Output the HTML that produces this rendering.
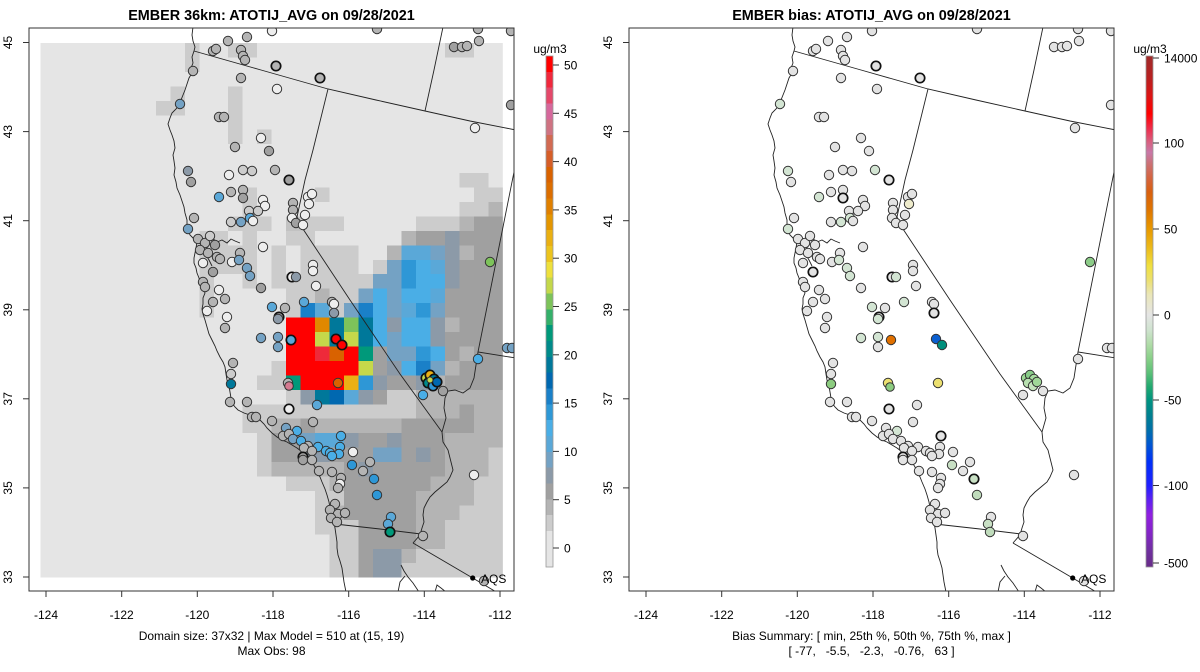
<!DOCTYPE html>
<html>
<head>
<meta charset="utf-8">
<style>
  html,body{margin:0;padding:0;background:#fff;}
  svg{display:block;font-family:"Liberation Sans",Arial,sans-serif;}
  .a{fill:#cccccc}.k{fill:#b4b4b4}.c{fill:#a0a0a0}.g{fill:#8c9aa8}.s{fill:#74a2c4}
  .l{fill:#5aa8d8}.e{fill:#4aaee6}.m{fill:#2e97d6}.n{fill:#1a80c8}.d{fill:#0068b0}
  .t{fill:#00789a}.u{fill:#008a8a}.q{fill:#00997a}.y{fill:#c5d84a}.o{fill:#e08800}
  .p{fill:#d96200}.r{fill:#ff0000}.w{fill:#ee2a3a}.z{fill:#ebb015}.v{fill:#7dc35a}
  .W{fill:#eeeeee}.pk{fill:#d47a90}.h{fill:#e3e3e3}.j{fill:#d3e5d3}.a2{fill:#c2c2c2}
  .pts circle{stroke:#333;stroke-width:1}
  .pts circle.T{stroke:#111;stroke-width:1.7}
  .ln{fill:none;stroke:#222;stroke-width:0.9}
  .tk{stroke:#333;stroke-width:1}
  .lab{font-size:12px;fill:#000}
</style>
</head>
<body>
<svg width="1200" height="672" viewBox="0 0 1200 672" xmlns="http://www.w3.org/2000/svg">
<defs>
  <clipPath id="cp"><rect x="29" y="28" width="485" height="563"/></clipPath>
  <linearGradient id="bias" x1="0" y1="0" x2="0" y2="1">
    <stop offset="0%" stop-color="#a02a2a"/>
    <stop offset="4.3%" stop-color="#b82020"/>
    <stop offset="7.8%" stop-color="#dc1414"/>
    <stop offset="11.3%" stop-color="#ff0000"/>
    <stop offset="14.4%" stop-color="#ec3050"/>
    <stop offset="16.8%" stop-color="#d86080"/>
    <stop offset="18.9%" stop-color="#c878a8"/>
    <stop offset="21.3%" stop-color="#cc7070"/>
    <stop offset="23.8%" stop-color="#d46440"/>
    <stop offset="26.6%" stop-color="#d86010"/>
    <stop offset="30%" stop-color="#de7400"/>
    <stop offset="34%" stop-color="#e89a00"/>
    <stop offset="37.7%" stop-color="#ecbc1c"/>
    <stop offset="41.1%" stop-color="#f0e040"/>
    <stop offset="43.9%" stop-color="#ece070"/>
    <stop offset="46.7%" stop-color="#eae6b8"/>
    <stop offset="50.7%" stop-color="#e5e5e5"/>
    <stop offset="53.6%" stop-color="#cfe3cf"/>
    <stop offset="56.4%" stop-color="#b0dca8"/>
    <stop offset="59.2%" stop-color="#88d088"/>
    <stop offset="62%" stop-color="#5cc078"/>
    <stop offset="64.8%" stop-color="#20a870"/>
    <stop offset="67.3%" stop-color="#009480"/>
    <stop offset="70.3%" stop-color="#008090"/>
    <stop offset="73.1%" stop-color="#0070a8"/>
    <stop offset="75.9%" stop-color="#0058d0"/>
    <stop offset="79.4%" stop-color="#0030f8"/>
    <stop offset="84.1%" stop-color="#2020ff"/>
    <stop offset="87%" stop-color="#6020f0"/>
    <stop offset="89.8%" stop-color="#9020e0"/>
    <stop offset="93.3%" stop-color="#8424c8"/>
    <stop offset="96.7%" stop-color="#7030a0"/>
    <stop offset="100%" stop-color="#682c88"/>
  </linearGradient>
</defs>

<!-- ================= LEFT PANEL ================= -->
<text x="271.5" y="20" text-anchor="middle" font-size="14.4" font-weight="bold">EMBER 36km: ATOTIJ_AVG on 09/28/2021</text>

<g clip-path="url(#cp)">
  <svg x="40.4" y="43" width="462.4" height="534.65" viewBox="0 0 32 37" preserveAspectRatio="none" shape-rendering="crispEdges">
    <rect x="0" y="0" width="32" height="37" fill="#e5e5e5"/>
    <rect class="a" x="10" y="0" width="1" height="2"/>
    <rect class="a" x="13" y="0" width="2" height="1"/>
    <rect class="a" x="28" y="0" width="2" height="1"/>
    <rect class="a" x="9" y="3" width="1" height="2"/>
    <rect class="a" x="8" y="4" width="1" height="1"/>
    <rect class="a" x="13" y="3" width="1" height="4"/>
    <rect class="a" x="15" y="6" width="1" height="1"/>
    <rect class="a" x="29" y="9" width="2" height="1"/>
    <rect class="a" x="14" y="10" width="1" height="3"/>
    <rect class="a" x="19" y="10" width="1" height="1"/>
    <rect class="a" x="30" y="10" width="2" height="1"/>
    <rect class="a" x="29" y="11" width="2" height="1"/>
    <rect class="k" x="31" y="11" width="1" height="1"/>
    <rect class="a" x="13" y="12" width="3" height="1"/>
    <rect class="a2" x="17" y="12" width="1" height="1"/>
    <rect class="a" x="18" y="12" width="3" height="1"/>
    <rect class="a" x="26" y="12" width="3" height="1"/>
    <rect class="k" x="29" y="12" width="1" height="1"/>
    <rect class="c" x="30" y="12" width="2" height="1"/>
    <rect class="a" x="11" y="13" width="2" height="1"/>
    <rect class="a" x="14" y="13" width="1" height="1"/>
    <rect class="a" x="17" y="13" width="2" height="1"/>
    <rect class="k" x="25" y="13" width="1" height="1"/>
    <rect class="c" x="26" y="13" width="2" height="1"/>
    <rect class="g" x="28" y="13" width="1" height="1"/>
    <rect class="c" x="29" y="13" width="3" height="1"/>
    <rect class="a" x="11" y="14" width="4" height="1"/>
    <rect class="a" x="16" y="14" width="1" height="1"/>
    <rect class="a" x="18" y="14" width="4" height="1"/>
    <rect class="k" x="24" y="14" width="1" height="1"/>
    <rect class="l" x="25" y="14" width="2" height="1"/>
    <rect class="s" x="27" y="14" width="1" height="1"/>
    <rect class="g" x="28" y="14" width="1" height="1"/>
    <rect class="k" x="29" y="14" width="1" height="1"/>
    <rect class="c" x="30" y="14" width="2" height="1"/>
    <rect class="a" x="11" y="15" width="4" height="1"/>
    <rect class="a" x="16" y="15" width="1" height="1"/>
    <rect class="a" x="18" y="15" width="4" height="1"/>
    <rect class="a" x="23" y="15" width="1" height="1"/>
    <rect class="s" x="24" y="15" width="1" height="1"/>
    <rect class="m" x="25" y="15" width="1" height="1"/>
    <rect class="e" x="26" y="15" width="1" height="1"/>
    <rect class="l" x="27" y="15" width="1" height="1"/>
    <rect class="g" x="28" y="15" width="1" height="1"/>
    <rect class="c" x="29" y="15" width="3" height="1"/>
    <rect class="a" x="11" y="16" width="1" height="3"/>
    <rect class="a" x="14" y="16" width="1" height="1"/>
    <rect class="a" x="16" y="16" width="7" height="1"/>
    <rect class="s" x="23" y="16" width="2" height="1"/>
    <rect class="m" x="25" y="16" width="1" height="1"/>
    <rect class="e" x="26" y="16" width="2" height="1"/>
    <rect class="g" x="28" y="16" width="1" height="1"/>
    <rect class="c" x="29" y="16" width="3" height="1"/>
    <rect class="a" x="17" y="17" width="2" height="1"/>
    <rect class="k" x="19" y="17" width="1" height="1"/>
    <rect class="a" x="20" y="17" width="2" height="1"/>
    <rect class="s" x="22" y="17" width="1" height="1"/>
    <rect class="e" x="23" y="17" width="1" height="1"/>
    <rect class="s" x="24" y="17" width="1" height="1"/>
    <rect class="e" x="25" y="17" width="2" height="1"/>
    <rect class="l" x="27" y="17" width="1" height="1"/>
    <rect class="c" x="28" y="17" width="4" height="1"/>
    <rect class="a" x="17" y="18" width="1" height="1"/>
    <rect class="n" x="18" y="18" width="1" height="1"/>
    <rect class="l" x="19" y="18" width="1" height="1"/>
    <rect class="a" x="20" y="18" width="1" height="1"/>
    <rect class="s" x="21" y="18" width="1" height="1"/>
    <rect class="n" x="22" y="18" width="1" height="1"/>
    <rect class="e" x="23" y="18" width="1" height="1"/>
    <rect class="s" x="24" y="18" width="1" height="1"/>
    <rect class="l" x="25" y="18" width="1" height="1"/>
    <rect class="m" x="26" y="18" width="1" height="1"/>
    <rect class="s" x="27" y="18" width="1" height="1"/>
    <rect class="c" x="28" y="18" width="4" height="1"/>
    <rect class="r" x="17" y="19" width="2" height="1"/>
    <rect class="o" x="19" y="19" width="1" height="1"/>
    <rect class="t" x="20" y="19" width="1" height="1"/>
    <rect class="v" x="21" y="19" width="1" height="1"/>
    <rect class="t" x="22" y="19" width="1" height="1"/>
    <rect class="e" x="23" y="19" width="1" height="1"/>
    <rect class="g" x="24" y="19" width="1" height="1"/>
    <rect class="e" x="25" y="19" width="2" height="1"/>
    <rect class="g" x="27" y="19" width="1" height="1"/>
    <rect class="k" x="28" y="19" width="1" height="1"/>
    <rect class="c" x="29" y="19" width="3" height="1"/>
    <rect class="r" x="17" y="20" width="2" height="1"/>
    <rect class="y" x="19" y="20" width="1" height="1"/>
    <rect class="t" x="20" y="20" width="1" height="1"/>
    <rect class="y" x="21" y="20" width="1" height="1"/>
    <rect class="t" x="22" y="20" width="1" height="1"/>
    <rect class="e" x="23" y="20" width="1" height="1"/>
    <rect class="s" x="24" y="20" width="1" height="1"/>
    <rect class="e" x="25" y="20" width="2" height="1"/>
    <rect class="g" x="27" y="20" width="1" height="1"/>
    <rect class="c" x="28" y="20" width="4" height="1"/>
    <rect class="r" x="17" y="21" width="2" height="1"/>
    <rect class="w" x="19" y="21" width="1" height="1"/>
    <rect class="p" x="20" y="21" width="1" height="1"/>
    <rect class="r" x="21" y="21" width="1" height="1"/>
    <rect class="q" x="22" y="21" width="1" height="1"/>
    <rect class="c" x="23" y="21" width="1" height="1"/>
    <rect class="s" x="24" y="21" width="2" height="1"/>
    <rect class="m" x="26" y="21" width="1" height="1"/>
    <rect class="e" x="27" y="21" width="1" height="1"/>
    <rect class="c" x="28" y="21" width="1" height="1"/>
    <rect class="k" x="29" y="21" width="1" height="1"/>
    <rect class="c" x="30" y="21" width="2" height="1"/>
    <rect class="a" x="16" y="22" width="1" height="1"/>
    <rect class="r" x="17" y="22" width="5" height="1"/>
    <rect class="y" x="22" y="22" width="1" height="1"/>
    <rect class="c" x="23" y="22" width="1" height="1"/>
    <rect class="g" x="24" y="22" width="1" height="1"/>
    <rect class="e" x="25" y="22" width="1" height="1"/>
    <rect class="n" x="26" y="22" width="1" height="1"/>
    <rect class="s" x="27" y="22" width="1" height="1"/>
    <rect class="k" x="28" y="22" width="1" height="1"/>
    <rect class="c" x="29" y="22" width="3" height="1"/>
    <rect class="a" x="15" y="23" width="2" height="1"/>
    <rect class="q" x="17" y="23" width="1" height="1"/>
    <rect class="r" x="18" y="23" width="3" height="1"/>
    <rect class="z" x="21" y="23" width="1" height="1"/>
    <rect class="m" x="22" y="23" width="1" height="1"/>
    <rect class="g" x="23" y="23" width="1" height="1"/>
    <rect class="c" x="24" y="23" width="2" height="1"/>
    <rect class="g" x="26" y="23" width="1" height="1"/>
    <rect class="k" x="27" y="23" width="1" height="1"/>
    <rect class="c" x="28" y="23" width="4" height="1"/>
    <rect class="a" x="17" y="24" width="1" height="1"/>
    <rect class="g" x="18" y="24" width="1" height="1"/>
    <rect class="t" x="19" y="24" width="1" height="1"/>
    <rect class="d" x="20" y="24" width="1" height="1"/>
    <rect class="l" x="21" y="24" width="1" height="1"/>
    <rect class="g" x="22" y="24" width="1" height="1"/>
    <rect class="c" x="23" y="24" width="1" height="1"/>
    <rect class="a" x="24" y="24" width="2" height="1"/>
    <rect class="k" x="26" y="24" width="6" height="1"/>
    <rect class="a" x="14" y="25" width="12" height="1"/>
    <rect class="k" x="26" y="25" width="3" height="1"/>
    <rect class="c" x="29" y="25" width="1" height="1"/>
    <rect class="k" x="30" y="25" width="2" height="1"/>
    <rect class="a" x="14" y="26" width="2" height="1"/>
    <rect class="k" x="16" y="26" width="2" height="1"/>
    <rect class="c" x="18" y="26" width="1" height="1"/>
    <rect class="k" x="19" y="26" width="6" height="1"/>
    <rect class="c" x="25" y="26" width="5" height="1"/>
    <rect class="k" x="30" y="26" width="2" height="1"/>
    <rect class="a" x="15" y="27" width="1" height="3"/>
    <rect class="c" x="16" y="27" width="2" height="2"/>
    <rect class="s" x="18" y="27" width="1" height="1"/>
    <rect class="l" x="19" y="27" width="2" height="1"/>
    <rect class="g" x="21" y="27" width="1" height="1"/>
    <rect class="c" x="22" y="27" width="2" height="1"/>
    <rect class="g" x="24" y="27" width="1" height="1"/>
    <rect class="c" x="25" y="27" width="3" height="1"/>
    <rect class="k" x="28" y="27" width="4" height="1"/>
    <rect class="g" x="18" y="28" width="2" height="1"/>
    <rect class="c" x="20" y="28" width="3" height="1"/>
    <rect class="s" x="23" y="28" width="2" height="1"/>
    <rect class="c" x="25" y="28" width="1" height="1"/>
    <rect class="g" x="26" y="28" width="1" height="1"/>
    <rect class="c" x="27" y="28" width="1" height="1"/>
    <rect class="k" x="28" y="28" width="3" height="2"/>
    <rect class="a" x="31" y="28" width="1" height="2"/>
    <rect class="k" x="16" y="29" width="5" height="1"/>
    <rect class="c" x="21" y="29" width="1" height="1"/>
    <rect class="g" x="22" y="29" width="1" height="1"/>
    <rect class="c" x="23" y="29" width="5" height="1"/>
    <rect class="a" x="17" y="30" width="3" height="1"/>
    <rect class="k" x="20" y="30" width="1" height="1"/>
    <rect class="c" x="21" y="30" width="6" height="1"/>
    <rect class="k" x="27" y="30" width="3" height="1"/>
    <rect class="a" x="30" y="30" width="2" height="2"/>
    <rect class="a" x="19" y="31" width="2" height="1"/>
    <rect class="c" x="21" y="31" width="5" height="2"/>
    <rect class="k" x="26" y="31" width="4" height="1"/>
    <rect class="a" x="19" y="32" width="1" height="1"/>
    <rect class="k" x="20" y="32" width="1" height="1"/>
    <rect class="k" x="26" y="32" width="3" height="1"/>
    <rect class="a" x="29" y="32" width="3" height="1"/>
    <rect class="a" x="19" y="33" width="3" height="1"/>
    <rect class="c" x="22" y="33" width="4" height="2"/>
    <rect class="k" x="26" y="33" width="2" height="2"/>
    <rect class="a" x="28" y="33" width="4" height="2"/>
    <rect class="a" x="20" y="34" width="2" height="1"/>
    <rect class="a" x="20" y="35" width="2" height="2"/>
    <rect class="c" x="22" y="35" width="1" height="2"/>
    <rect class="g" x="23" y="35" width="2" height="2"/>
    <rect class="k" x="25" y="35" width="1" height="1"/>
    <rect class="a" x="26" y="35" width="6" height="1"/>
    <rect class="a" x="25" y="36" width="7" height="1"/>
  </svg>

  <g class="ln">
    <path d="M193,27 L192,35 L193,41 L195,47 L194,51 L192,57 L193,63 L191,68 L192,73 L189,78 L187,84 L185,90 L183,95 L181,100 L180,104 L176,109 L172,113 L170,118 L168,124 L170,130 L172,135 L174,141 L175,148 L173,155 L174,161 L175,168 L174,175 L176,182 L177,188 L180,195 L182,201 L184,207 L185,213 L187,220 L187,226 L188,230 L190,235 L194,239 L197,242 L196,248 L195,253 L194,258 L194,263 L196,268 L197,273 L199,278 L200,282 L203,288 L205,293 L203,298 L203,304 L202,309 L203,314 L205,320 L207,327 L209,334 L212,340 L215,346 L217,351 L220,357 L223,362 L225,367 L226,374 L227,380 L229,386 L230,392 L231,398 L232,403 L235,407 L238,410 L244,413 L250,415 L255,417 L260,420 L264,424 L267,428 L272,433 L277,437 L282,440 L287,442 L292,445 L297,448 L301,451 L305,455 L309,458 L312,462 L315,467 L317,472 L320,477 L322,482 L325,489 L327,495 L329,502 L330,508 L331,513 L332,518 L334,523 L335,528 L336,535 L337,542 L337,548 L338,555 L340,561 L342,568 L343,575 L344,582 L346,592"/>
    <path d="M197,242 L203,240 L208,241 L212,238 L217,242 L222,240 L227,243 L231,239 L235,241 L240,243 M205,244 L208,249 L206,255 L209,260 L212,266"/>
    <path d="M194,51 L261,70 L328,89 L376,100 L425,111 L470,121 L516,130"/>
    <path d="M443,27 L434,70 L425,111"/>
    <path d="M328,89 L313,150 L305,180 L297,217 L303,229 L350,300 L400,374 L442,432"/>
    <path d="M516,162 L478,352 L516,358"/>
    <path d="M478,352 L476,365 L474,378 L470,388 L463,393 L455,390 L448,391 L445,398 L444,408 L446,418 L442,432 L443,442 L448,450 L450,458 L453,470 L450,477 L447,482 L441,487 L435,492 L430,497 L427,502 L424,508 L423,515 L424,522 L422,528 L420,535 L413,543"/>
    <path d="M335,524 L380,529 L421,534"/>
    <path d="M413,543 L472.7,578 L503,596"/>
    <path d="M401,565 L404,571 L408,577 L413,583 L419,592 M398,592 L400,582 L405,576 M435,592 L437,585 L441,588 L446,592"/>
  </g>

  <g class="pts">
    <circle cx="272" cy="31" r="4.7" class="W"/>
    <circle cx="377" cy="29" r="4.7" class="k"/>
    <circle cx="478" cy="29" r="4.7" class="k"/>
    <circle cx="511" cy="31" r="4.7" class="k"/>
    <circle cx="228" cy="41" r="4.7" class="k"/>
    <circle cx="247" cy="37" r="4.7" class="k"/>
    <circle cx="213" cy="51" r="4.7" class="k"/>
    <circle cx="216" cy="49" r="4.7" class="k"/>
    <circle cx="241" cy="50" r="4.7" class="k"/>
    <circle cx="243" cy="56" r="4.7" class="k"/>
    <circle cx="245" cy="60" r="4.7" class="k"/>
    <circle cx="276" cy="66" r="4.7" class="k T"/>
    <circle cx="320" cy="78" r="4.7" class="k T"/>
    <circle cx="454" cy="47" r="4.7" class="c"/>
    <circle cx="462" cy="47" r="4.7" class="k"/>
    <circle cx="467" cy="46" r="4.7" class="k"/>
    <circle cx="479" cy="41" r="4.7" class="k"/>
    <circle cx="193" cy="71" r="4.7" class="k"/>
    <circle cx="241" cy="78" r="4.7" class="k"/>
    <circle cx="277" cy="89" r="4.7" class="W"/>
    <circle cx="180" cy="104" r="4.7" class="s"/>
    <circle cx="511" cy="105" r="4.7" class="c"/>
    <circle cx="219" cy="117" r="4.7" class="k"/>
    <circle cx="224" cy="117" r="4.7" class="k"/>
    <circle cx="475" cy="128" r="4.7" class="W"/>
    <circle cx="261" cy="138" r="4.7" class="W"/>
    <circle cx="235" cy="147" r="4.7" class="k"/>
    <circle cx="269" cy="151" r="4.7" class="c"/>
    <circle cx="188" cy="171" r="4.7" class="g"/>
    <circle cx="191" cy="182" r="4.7" class="c"/>
    <circle cx="229" cy="175" r="4.7" class="W"/>
    <circle cx="243" cy="170" r="4.7" class="a"/>
    <circle cx="252" cy="171" r="4.7" class="a"/>
    <circle cx="275" cy="170" r="4.7" class="k"/>
    <circle cx="289" cy="180" r="4.7" class="c T"/>
    <circle cx="219" cy="197" r="4.7" class="l"/>
    <circle cx="231" cy="192" r="4.7" class="k"/>
    <circle cx="243" cy="190" r="4.7" class="k"/>
    <circle cx="243" cy="198" r="4.7" class="c"/>
    <circle cx="263" cy="200" r="4.7" class="W"/>
    <circle cx="265" cy="206" r="4.7" class="W"/>
    <circle cx="293" cy="203" r="4.7" class="k"/>
    <circle cx="308" cy="197" r="4.7" class="W"/>
    <circle cx="312" cy="194" r="4.7" class="W"/>
    <circle cx="309" cy="204" r="4.7" class="W"/>
    <circle cx="293" cy="210" r="4.7" class="k"/>
    <circle cx="305" cy="215" r="4.7" class="W"/>
    <circle cx="194" cy="218" r="4.7" class="k"/>
    <circle cx="249" cy="211" r="4.7" class="a"/>
    <circle cx="258" cy="211" r="4.7" class="a"/>
    <circle cx="250" cy="218" r="4.7" class="l"/>
    <circle cx="231" cy="222" r="4.7" class="a"/>
    <circle cx="241" cy="222" r="4.7" class="s"/>
    <circle cx="253" cy="221" r="4.7" class="W"/>
    <circle cx="292" cy="218" r="4.7" class="W"/>
    <circle cx="296" cy="223" r="4.7" class="c"/>
    <circle cx="303" cy="225" r="4.7" class="W"/>
    <circle cx="188" cy="229" r="4.7" class="s"/>
    <circle cx="198" cy="239" r="4.7" class="k"/>
    <circle cx="205" cy="243" r="4.7" class="k"/>
    <circle cx="210" cy="236" r="4.7" class="a"/>
    <circle cx="215" cy="245" r="4.7" class="c"/>
    <circle cx="200" cy="250" r="4.7" class="k"/>
    <circle cx="208" cy="253" r="4.7" class="k"/>
    <circle cx="203" cy="263" r="4.7" class="W"/>
    <circle cx="217" cy="257" r="4.7" class="k"/>
    <circle cx="220" cy="259" r="4.7" class="k"/>
    <circle cx="232" cy="262" r="4.7" class="W"/>
    <circle cx="240" cy="253" r="4.7" class="k"/>
    <circle cx="239" cy="260" r="4.7" class="s"/>
    <circle cx="263" cy="247" r="4.7" class="W"/>
    <circle cx="247" cy="268" r="4.7" class="s"/>
    <circle cx="250" cy="276" r="4.7" class="s"/>
    <circle cx="213" cy="272" r="4.7" class="c"/>
    <circle cx="203" cy="282" r="4.7" class="k"/>
    <circle cx="205" cy="287" r="4.7" class="k"/>
    <circle cx="219" cy="290" r="4.7" class="W"/>
    <circle cx="213" cy="302" r="4.7" class="k"/>
    <circle cx="207" cy="311" r="4.7" class="W"/>
    <circle cx="225" cy="299" r="4.7" class="k"/>
    <circle cx="227" cy="317" r="4.7" class="W"/>
    <circle cx="225" cy="328" r="4.7" class="k"/>
    <circle cx="261" cy="288" r="4.7" class="c"/>
    <circle cx="292" cy="277" r="4.7" class="W T"/>
    <circle cx="296" cy="277" r="4.7" class="g"/>
    <circle cx="313" cy="265" r="4.7" class="W"/>
    <circle cx="313" cy="271" r="4.7" class="W"/>
    <circle cx="316" cy="286" r="4.7" class="W"/>
    <circle cx="272" cy="307" r="4.7" class="l"/>
    <circle cx="285" cy="308" r="4.7" class="k"/>
    <circle cx="279" cy="317" r="4.7" class="c T"/>
    <circle cx="278" cy="319" r="4.7" class="g"/>
    <circle cx="304" cy="302" r="4.7" class="l"/>
    <circle cx="332" cy="302" r="4.7" class="k"/>
    <circle cx="334" cy="304" r="4.7" class="W"/>
    <circle cx="334" cy="313" r="4.7" class="g"/>
    <circle cx="291" cy="340" r="4.7" class="l T"/>
    <circle cx="261" cy="338" r="4.7" class="s"/>
    <circle cx="278" cy="337" r="4.7" class="s"/>
    <circle cx="278" cy="347" r="4.7" class="s"/>
    <circle cx="336" cy="339" r="4.7" class="r T"/>
    <circle cx="342" cy="345" r="4.7" class="r T"/>
    <circle cx="233" cy="363" r="4.7" class="k"/>
    <circle cx="231" cy="374" r="4.7" class="a"/>
    <circle cx="231" cy="384" r="4.7" class="t"/>
    <circle cx="288" cy="383" r="4.7" class="k"/>
    <circle cx="289" cy="386" r="4.3" class="pk"/>
    <circle cx="338" cy="383" r="4.7" class="p"/>
    <circle cx="230" cy="402" r="4.7" class="k"/>
    <circle cx="247" cy="402" r="4.7" class="k"/>
    <circle cx="289" cy="409" r="4.7" class="W T"/>
    <circle cx="317" cy="405" r="4.7" class="l"/>
    <circle cx="252" cy="417" r="4.7" class="k"/>
    <circle cx="256" cy="417" r="4.7" class="k"/>
    <circle cx="272" cy="421" r="4.7" class="k"/>
    <circle cx="313" cy="422" r="4.7" class="k"/>
    <circle cx="490" cy="262" r="4.7" class="v"/>
    <circle cx="507" cy="348" r="4.7" class="s"/>
    <circle cx="512" cy="348" r="4.7" class="s"/>
    <circle cx="478" cy="359" r="4.7" class="e"/>
    <circle cx="426" cy="378" r="4.7" class="y T"/>
    <circle cx="430" cy="375" r="4.7" class="z T"/>
    <circle cx="434" cy="379" r="4.7" class="t T"/>
    <circle cx="428" cy="383" r="4.7" class="u T"/>
    <circle cx="433" cy="386" r="4.7" class="m T"/>
    <circle cx="437" cy="382" r="4.7" class="d T"/>
    <circle cx="430" cy="380" r="3" class="y"/>
    <circle cx="423" cy="395" r="4.7" class="e"/>
    <circle cx="443" cy="391" r="4.7" class="c"/>
    <circle cx="286" cy="428" r="4.7" class="s"/>
    <circle cx="297" cy="431" r="4.7" class="e"/>
    <circle cx="283" cy="436" r="4.7" class="k"/>
    <circle cx="289" cy="434" r="4.7" class="k"/>
    <circle cx="293" cy="439" r="4.7" class="s"/>
    <circle cx="301" cy="441" r="4.7" class="e"/>
    <circle cx="341" cy="436" r="4.7" class="e"/>
    <circle cx="308" cy="446" r="4.7" class="k"/>
    <circle cx="318" cy="447" r="4.7" class="e"/>
    <circle cx="304" cy="448" r="4.7" class="k"/>
    <circle cx="312" cy="451" r="4.7" class="k"/>
    <circle cx="326" cy="451" r="4.7" class="e"/>
    <circle cx="330" cy="453" r="4.7" class="e"/>
    <circle cx="340" cy="447" r="4.7" class="e"/>
    <circle cx="339" cy="454" r="4.7" class="e"/>
    <circle cx="332" cy="456" r="4.7" class="e"/>
    <circle cx="303" cy="457" r="4.7" class="c T"/>
    <circle cx="303" cy="460" r="4.7" class="c"/>
    <circle cx="312" cy="460" r="4.7" class="k"/>
    <circle cx="353" cy="452" r="4.7" class="W"/>
    <circle cx="352" cy="465" r="4.7" class="m"/>
    <circle cx="370" cy="462" r="4.7" class="k"/>
    <circle cx="363" cy="471" r="4.7" class="k"/>
    <circle cx="319" cy="471" r="4.7" class="k"/>
    <circle cx="332" cy="472" r="4.7" class="k"/>
    <circle cx="341" cy="478" r="4.7" class="k"/>
    <circle cx="340" cy="484" r="4.7" class="W"/>
    <circle cx="338" cy="488" r="4.7" class="k"/>
    <circle cx="374" cy="479" r="4.7" class="m"/>
    <circle cx="377" cy="495" r="4.7" class="m"/>
    <circle cx="474" cy="475" r="4.7" class="W"/>
    <circle cx="335" cy="504" r="4.7" class="k"/>
    <circle cx="330" cy="510" r="4.7" class="k"/>
    <circle cx="338" cy="514" r="4.7" class="k"/>
    <circle cx="345" cy="513" r="4.7" class="k"/>
    <circle cx="331" cy="518" r="4.7" class="k"/>
    <circle cx="337" cy="522" r="4.7" class="k"/>
    <circle cx="391" cy="517" r="4.7" class="l"/>
    <circle cx="388" cy="524" r="4.7" class="l"/>
    <circle cx="390" cy="532" r="4.7" class="q T"/>
    <circle cx="423" cy="536" r="4.7" class="k"/>
    <circle cx="484" cy="581" r="4.7" class="k"/>
  </g>
  <circle cx="472.7" cy="578" r="2.6" fill="#000"/>
  <text x="481" y="583" class="lab">AQS</text>
</g>

<rect x="29" y="28" width="485" height="563" fill="none" stroke="#333" stroke-width="1"/>
<g class="tk">
  <line x1="46" y1="591" x2="46" y2="597"/><line x1="121.7" y1="591" x2="121.7" y2="597"/>
  <line x1="197.3" y1="591" x2="197.3" y2="597"/><line x1="273" y1="591" x2="273" y2="597"/>
  <line x1="348.7" y1="591" x2="348.7" y2="597"/><line x1="424.3" y1="591" x2="424.3" y2="597"/>
  <line x1="500" y1="591" x2="500" y2="597"/>
  <line x1="23" y1="42.5" x2="29" y2="42.5"/><line x1="23" y1="131.6" x2="29" y2="131.6"/>
  <line x1="23" y1="220.7" x2="29" y2="220.7"/><line x1="23" y1="309.8" x2="29" y2="309.8"/>
  <line x1="23" y1="398.8" x2="29" y2="398.8"/><line x1="23" y1="487.9" x2="29" y2="487.9"/>
  <line x1="23" y1="577" x2="29" y2="577"/>
</g>
<g class="lab" text-anchor="middle">
  <text x="46" y="619">-124</text><text x="121.7" y="619">-122</text><text x="197.3" y="619">-120</text>
  <text x="273" y="619">-118</text><text x="348.7" y="619">-116</text><text x="424.3" y="619">-114</text>
  <text x="500" y="619">-112</text>
  <text transform="translate(12,42.5) rotate(-90)">45</text>
  <text transform="translate(12,131.6) rotate(-90)">43</text>
  <text transform="translate(12,220.7) rotate(-90)">41</text>
  <text transform="translate(12,309.8) rotate(-90)">39</text>
  <text transform="translate(12,398.8) rotate(-90)">37</text>
  <text transform="translate(12,487.9) rotate(-90)">35</text>
  <text transform="translate(12,577) rotate(-90)">33</text>
  <text x="271.5" y="640">Domain size: 37x32 | Max Model = 510 at (15, 19)</text>
  <text x="271.5" y="655">Max Obs: 98</text>
  <text x="550" y="53">ug/m3</text>
</g>

<g shape-rendering="crispEdges">
  <rect x="546" y="56" width="7" height="15.9" fill="#ff0000"/>
  <rect x="546" y="71.8" width="7" height="15.9" fill="#f0283c"/>
  <rect x="546" y="87.7" width="7" height="15.9" fill="#e4486a"/>
  <rect x="546" y="103.5" width="7" height="15.9" fill="#d6689c"/>
  <rect x="546" y="119.3" width="7" height="15.9" fill="#cf7382"/>
  <rect x="546" y="135.2" width="7" height="15.9" fill="#d26a52"/>
  <rect x="546" y="151" width="7" height="15.9" fill="#d65e28"/>
  <rect x="546" y="166.8" width="7" height="15.9" fill="#d96200"/>
  <rect x="546" y="182.6" width="7" height="15.9" fill="#dc6e00"/>
  <rect x="546" y="198.5" width="7" height="15.9" fill="#e08000"/>
  <rect x="546" y="214.3" width="7" height="15.9" fill="#e49600"/>
  <rect x="546" y="230.1" width="7" height="15.9" fill="#eab012"/>
  <rect x="546" y="246" width="7" height="15.9" fill="#ecc41e"/>
  <rect x="546" y="261.8" width="7" height="15.9" fill="#eee03c"/>
  <rect x="546" y="277.6" width="7" height="15.9" fill="#c4d84a"/>
  <rect x="546" y="293.5" width="7" height="15.9" fill="#7cc35a"/>
  <rect x="546" y="309.3" width="7" height="15.9" fill="#34b06a"/>
  <rect x="546" y="325.1" width="7" height="15.9" fill="#00997a"/>
  <rect x="546" y="341" width="7" height="15.9" fill="#008a8a"/>
  <rect x="546" y="356.8" width="7" height="15.9" fill="#00789a"/>
  <rect x="546" y="372.6" width="7" height="15.9" fill="#0068b0"/>
  <rect x="546" y="388.4" width="7" height="15.9" fill="#1a80c8"/>
  <rect x="546" y="404.3" width="7" height="15.9" fill="#2e98d6"/>
  <rect x="546" y="420.1" width="7" height="15.9" fill="#4aaee6"/>
  <rect x="546" y="435.9" width="7" height="15.9" fill="#5aa8d8"/>
  <rect x="546" y="451.8" width="7" height="15.9" fill="#74a2c4"/>
  <rect x="546" y="467.6" width="7" height="15.9" fill="#8c9aa8"/>
  <rect x="546" y="483.4" width="7" height="15.9" fill="#a0a0a0"/>
  <rect x="546" y="499.3" width="7" height="15.9" fill="#b4b4b4"/>
  <rect x="546" y="515.1" width="7" height="15.9" fill="#cccccc"/>
  <rect x="546" y="531" width="7" height="36" fill="#e5e5e5"/>
</g>
<rect x="546" y="56" width="7" height="511" fill="none" stroke="#999" stroke-width="0.8"/>
<g class="tk">
  <line x1="553" y1="65" x2="559" y2="65"/><line x1="553" y1="113.3" x2="559" y2="113.3"/>
  <line x1="553" y1="161.6" x2="559" y2="161.6"/><line x1="553" y1="209.9" x2="559" y2="209.9"/>
  <line x1="553" y1="258.2" x2="559" y2="258.2"/><line x1="553" y1="306.5" x2="559" y2="306.5"/>
  <line x1="553" y1="354.8" x2="559" y2="354.8"/><line x1="553" y1="403.1" x2="559" y2="403.1"/>
  <line x1="553" y1="451.4" x2="559" y2="451.4"/><line x1="553" y1="499.7" x2="559" y2="499.7"/>
  <line x1="553" y1="548" x2="559" y2="548"/>
</g>
<g class="lab">
  <text x="564" y="69.5">50</text><text x="564" y="117.8">45</text><text x="564" y="166.1">40</text>
  <text x="564" y="214.4">35</text><text x="564" y="262.7">30</text><text x="564" y="311">25</text>
  <text x="564" y="359.3">20</text><text x="564" y="407.6">15</text><text x="564" y="455.9">10</text>
  <text x="564" y="504.2">5</text><text x="564" y="552.5">0</text>
</g>

<!-- ================= RIGHT PANEL ================= -->
<text x="871.5" y="20" text-anchor="middle" font-size="14.4" font-weight="bold">EMBER bias: ATOTIJ_AVG on 09/28/2021</text>

<g transform="translate(600,0)">
  <g clip-path="url(#cp)">
    <g class="ln">
      <path d="M193,27 L192,35 L193,41 L195,47 L194,51 L192,57 L193,63 L191,68 L192,73 L189,78 L187,84 L185,90 L183,95 L181,100 L180,104 L176,109 L172,113 L170,118 L168,124 L170,130 L172,135 L174,141 L175,148 L173,155 L174,161 L175,168 L174,175 L176,182 L177,188 L180,195 L182,201 L184,207 L185,213 L187,220 L187,226 L188,230 L190,235 L194,239 L197,242 L196,248 L195,253 L194,258 L194,263 L196,268 L197,273 L199,278 L200,282 L203,288 L205,293 L203,298 L203,304 L202,309 L203,314 L205,320 L207,327 L209,334 L212,340 L215,346 L217,351 L220,357 L223,362 L225,367 L226,374 L227,380 L229,386 L230,392 L231,398 L232,403 L235,407 L238,410 L244,413 L250,415 L255,417 L260,420 L264,424 L267,428 L272,433 L277,437 L282,440 L287,442 L292,445 L297,448 L301,451 L305,455 L309,458 L312,462 L315,467 L317,472 L320,477 L322,482 L325,489 L327,495 L329,502 L330,508 L331,513 L332,518 L334,523 L335,528 L336,535 L337,542 L337,548 L338,555 L340,561 L342,568 L343,575 L344,582 L346,592"/>
      <path d="M197,242 L203,240 L208,241 L212,238 L217,242 L222,240 L227,243 L231,239 L235,241 L240,243 M205,244 L208,249 L206,255 L209,260 L212,266"/>
      <path d="M194,51 L261,70 L328,89 L376,100 L425,111 L470,121 L516,130"/>
      <path d="M443,27 L434,70 L425,111"/>
      <path d="M328,89 L313,150 L305,180 L297,217 L303,229 L350,300 L400,374 L442,432"/>
      <path d="M516,162 L478,352 L516,358"/>
      <path d="M478,352 L476,365 L474,378 L470,388 L463,393 L455,390 L448,391 L445,398 L444,408 L446,418 L442,432 L443,442 L448,450 L450,458 L453,470 L450,477 L447,482 L441,487 L435,492 L430,497 L427,502 L424,508 L423,515 L424,522 L422,528 L420,535 L413,543"/>
      <path d="M335,524 L380,529 L421,534"/>
      <path d="M413,543 L472.7,578 L503,596"/>
      <path d="M401,565 L404,571 L408,577 L413,583 L419,592 M398,592 L400,582 L405,576 M435,592 L437,585 L441,588 L446,592"/>
    </g>
    <g class="pts">
      <circle cx="272" cy="31" r="4.7" class="h"/>
      <circle cx="377" cy="29" r="4.7" class="h"/>
      <circle cx="478" cy="29" r="4.7" class="h"/>
      <circle cx="511" cy="31" r="4.7" class="h"/>
      <circle cx="228" cy="41" r="4.7" class="h"/>
      <circle cx="247" cy="37" r="4.7" class="h"/>
      <circle cx="213" cy="51" r="4.7" class="h"/>
      <circle cx="216" cy="49" r="4.7" class="h"/>
      <circle cx="241" cy="50" r="4.7" class="h"/>
      <circle cx="243" cy="56" r="4.7" class="h"/>
      <circle cx="245" cy="60" r="4.7" class="h"/>
      <circle cx="276" cy="66" r="4.7" class="h T"/>
      <circle cx="320" cy="78" r="4.7" class="h T"/>
      <circle cx="454" cy="47" r="4.7" class="h"/>
      <circle cx="462" cy="47" r="4.7" class="h"/>
      <circle cx="467" cy="46" r="4.7" class="h"/>
      <circle cx="479" cy="41" r="4.7" class="h"/>
      <circle cx="193" cy="71" r="4.7" class="h"/>
      <circle cx="241" cy="78" r="4.7" class="h"/>
      <circle cx="277" cy="89" r="4.7" class="h"/>
      <circle cx="180" cy="104" r="4.7" class="j"/>
      <circle cx="511" cy="105" r="4.7" class="h"/>
      <circle cx="219" cy="117" r="4.7" class="h"/>
      <circle cx="224" cy="117" r="4.7" class="h"/>
      <circle cx="475" cy="128" r="4.7" class="h"/>
      <circle cx="261" cy="138" r="4.7" class="h"/>
      <circle cx="235" cy="147" r="4.7" class="h"/>
      <circle cx="269" cy="151" r="4.7" class="h"/>
      <circle cx="188" cy="171" r="4.7" class="j"/>
      <circle cx="191" cy="182" r="4.7" class="h"/>
      <circle cx="229" cy="175" r="4.7" class="h"/>
      <circle cx="243" cy="170" r="4.7" class="h"/>
      <circle cx="252" cy="171" r="4.7" class="h"/>
      <circle cx="275" cy="170" r="4.7" class="j"/>
      <circle cx="289" cy="180" r="4.7" class="h T"/>
      <circle cx="219" cy="197" r="4.7" class="j"/>
      <circle cx="231" cy="192" r="4.7" class="h"/>
      <circle cx="243" cy="190" r="4.7" class="h"/>
      <circle cx="243" cy="198" r="4.7" class="h T"/>
      <circle cx="263" cy="200" r="4.7" class="h"/>
      <circle cx="265" cy="206" r="4.7" class="h"/>
      <circle cx="293" cy="203" r="4.7" class="h"/>
      <circle cx="308" cy="197" r="4.7" class="h"/>
      <circle cx="312" cy="194" r="4.7" class="h"/>
      <circle cx="309" cy="204" r="4.7" fill="#efeccc"/>
      <circle cx="293" cy="210" r="4.7" class="h"/>
      <circle cx="305" cy="215" r="4.7" class="h"/>
      <circle cx="194" cy="218" r="4.7" class="h"/>
      <circle cx="249" cy="211" r="4.7" class="h"/>
      <circle cx="258" cy="211" r="4.7" class="h"/>
      <circle cx="250" cy="218" r="4.7" class="j"/>
      <circle cx="231" cy="222" r="4.7" class="h"/>
      <circle cx="241" cy="222" r="4.7" class="j"/>
      <circle cx="253" cy="221" r="4.7" class="h"/>
      <circle cx="292" cy="218" r="4.7" class="h"/>
      <circle cx="296" cy="223" r="4.7" class="h"/>
      <circle cx="303" cy="225" r="4.7" class="h"/>
      <circle cx="188" cy="229" r="4.7" class="j"/>
      <circle cx="198" cy="239" r="4.7" class="h"/>
      <circle cx="205" cy="243" r="4.7" class="h"/>
      <circle cx="210" cy="236" r="4.7" class="h"/>
      <circle cx="215" cy="245" r="4.7" class="h"/>
      <circle cx="200" cy="250" r="4.7" class="h"/>
      <circle cx="208" cy="253" r="4.7" class="h"/>
      <circle cx="203" cy="263" r="4.7" class="h"/>
      <circle cx="217" cy="257" r="4.7" class="h"/>
      <circle cx="220" cy="259" r="4.7" class="h"/>
      <circle cx="232" cy="262" r="4.7" class="h"/>
      <circle cx="240" cy="253" r="4.7" class="h"/>
      <circle cx="239" cy="260" r="4.7" class="j"/>
      <circle cx="263" cy="247" r="4.7" class="h"/>
      <circle cx="247" cy="268" r="4.7" class="j"/>
      <circle cx="250" cy="276" r="4.7" class="j"/>
      <circle cx="213" cy="272" r="4.7" class="h T"/>
      <circle cx="203" cy="282" r="4.7" class="h"/>
      <circle cx="205" cy="287" r="4.7" class="h"/>
      <circle cx="219" cy="290" r="4.7" class="h"/>
      <circle cx="213" cy="302" r="4.7" class="h"/>
      <circle cx="207" cy="311" r="4.7" class="h"/>
      <circle cx="225" cy="299" r="4.7" class="h"/>
      <circle cx="227" cy="317" r="4.7" class="h"/>
      <circle cx="225" cy="328" r="4.7" class="h"/>
      <circle cx="261" cy="288" r="4.7" class="h"/>
      <circle cx="292" cy="277" r="4.7" class="h T"/>
      <circle cx="296" cy="277" r="4.7" class="j"/>
      <circle cx="313" cy="265" r="4.7" class="h"/>
      <circle cx="313" cy="271" r="4.7" class="h"/>
      <circle cx="316" cy="286" r="4.7" class="h"/>
      <circle cx="272" cy="307" r="4.7" class="j"/>
      <circle cx="285" cy="308" r="4.7" class="h"/>
      <circle cx="279" cy="317" r="4.7" class="h T"/>
      <circle cx="278" cy="319" r="4.7" class="j"/>
      <circle cx="304" cy="302" r="4.7" class="j"/>
      <circle cx="332" cy="302" r="4.7" class="h"/>
      <circle cx="334" cy="304" r="4.7" class="h"/>
      <circle cx="334" cy="313" r="4.7" class="h T"/>
      <circle cx="291" cy="340" r="4.7" fill="#e07000"/>
      <circle cx="261" cy="338" r="4.7" class="j"/>
      <circle cx="278" cy="337" r="4.7" class="j"/>
      <circle cx="278" cy="347" r="4.7" class="h"/>
      <circle cx="336" cy="339" r="4.7" fill="#0a5fd0"/>
      <circle cx="342" cy="345" r="4.7" fill="#008f7c"/>
      <circle cx="233" cy="363" r="4.7" class="h"/>
      <circle cx="231" cy="374" r="4.7" class="h"/>
      <circle cx="231" cy="384" r="4.7" fill="#8ccc80"/>
      <circle cx="288" cy="383" r="4.7" fill="#ece070"/>
      <circle cx="290" cy="387" r="4.3" fill="#8ccc80"/>
      <circle cx="338" cy="383" r="4.7" fill="#ece070"/>
      <circle cx="230" cy="402" r="4.7" class="h"/>
      <circle cx="247" cy="402" r="4.7" class="h"/>
      <circle cx="289" cy="409" r="4.7" class="h T"/>
      <circle cx="317" cy="405" r="4.7" class="h"/>
      <circle cx="252" cy="417" r="4.7" class="h"/>
      <circle cx="256" cy="417" r="4.7" class="h"/>
      <circle cx="272" cy="421" r="4.7" class="h"/>
      <circle cx="313" cy="422" r="4.7" class="h"/>
      <circle cx="490" cy="262" r="4.7" fill="#8ccc88"/>
      <circle cx="507" cy="348" r="4.7" class="h"/>
      <circle cx="512" cy="348" r="4.7" class="h"/>
      <circle cx="478" cy="359" r="4.7" class="h"/>
      <circle cx="426" cy="378" r="4.7" fill="#9cd894"/>
      <circle cx="430" cy="375" r="4.7" fill="#88cc88"/>
      <circle cx="434" cy="379" r="4.7" fill="#a8dca0"/>
      <circle cx="428" cy="383" r="4.7" fill="#b8e0b0"/>
      <circle cx="433" cy="386" r="4.7" fill="#c4e4bc"/>
      <circle cx="437" cy="382" r="4.7" fill="#a0d898"/>
      <circle cx="423" cy="395" r="4.7" class="h"/>
      <circle cx="443" cy="391" r="4.7" class="h"/>
      <circle cx="286" cy="428" r="4.7" class="h"/>
      <circle cx="297" cy="431" r="4.7" class="j"/>
      <circle cx="283" cy="436" r="4.7" class="h"/>
      <circle cx="289" cy="434" r="4.7" class="h"/>
      <circle cx="293" cy="439" r="4.7" class="h"/>
      <circle cx="301" cy="441" r="4.7" class="h"/>
      <circle cx="341" cy="436" r="4.7" class="h T"/>
      <circle cx="308" cy="446" r="4.7" class="h"/>
      <circle cx="318" cy="447" r="4.7" class="h"/>
      <circle cx="304" cy="448" r="4.7" class="h"/>
      <circle cx="312" cy="451" r="4.7" class="h"/>
      <circle cx="326" cy="451" r="4.7" class="h"/>
      <circle cx="330" cy="453" r="4.7" class="h"/>
      <circle cx="340" cy="447" r="4.7" class="h"/>
      <circle cx="339" cy="454" r="4.7" class="h"/>
      <circle cx="332" cy="456" r="4.7" class="h"/>
      <circle cx="303" cy="457" r="4.7" class="h T"/>
      <circle cx="303" cy="460" r="4.7" class="h"/>
      <circle cx="312" cy="460" r="4.7" class="h"/>
      <circle cx="353" cy="452" r="4.7" class="h"/>
      <circle cx="352" cy="465" r="4.7" fill="#c8e0c4"/>
      <circle cx="370" cy="462" r="4.7" class="h"/>
      <circle cx="363" cy="471" r="4.7" class="h"/>
      <circle cx="319" cy="471" r="4.7" class="h"/>
      <circle cx="332" cy="472" r="4.7" class="h"/>
      <circle cx="341" cy="478" r="4.7" class="h"/>
      <circle cx="340" cy="484" r="4.7" class="h"/>
      <circle cx="338" cy="488" r="4.7" class="h"/>
      <circle cx="374" cy="479" r="4.7" fill="#c8e0c4" class="T"/>
      <circle cx="377" cy="495" r="4.7" fill="#c0dcbc"/>
      <circle cx="474" cy="475" r="4.7" class="h"/>
      <circle cx="335" cy="504" r="4.7" class="h"/>
      <circle cx="330" cy="510" r="4.7" class="h"/>
      <circle cx="338" cy="514" r="4.7" class="h"/>
      <circle cx="345" cy="513" r="4.7" class="h"/>
      <circle cx="331" cy="518" r="4.7" class="h"/>
      <circle cx="337" cy="522" r="4.7" class="h"/>
      <circle cx="391" cy="517" r="4.7" class="h"/>
      <circle cx="388" cy="524" r="4.7" fill="#c8e0c4"/>
      <circle cx="390" cy="532" r="4.7" fill="#c0dcbc"/>
      <circle cx="423" cy="536" r="4.7" class="h"/>
      <circle cx="484" cy="581" r="4.7" class="h"/>
    </g>
    <circle cx="472.7" cy="578" r="2.6" fill="#000"/>
    <text x="481" y="583" class="lab">AQS</text>
  </g>

  <rect x="29" y="28" width="485" height="563" fill="none" stroke="#333" stroke-width="1"/>
  <g class="tk">
    <line x1="46" y1="591" x2="46" y2="597"/><line x1="121.7" y1="591" x2="121.7" y2="597"/>
    <line x1="197.3" y1="591" x2="197.3" y2="597"/><line x1="273" y1="591" x2="273" y2="597"/>
    <line x1="348.7" y1="591" x2="348.7" y2="597"/><line x1="424.3" y1="591" x2="424.3" y2="597"/>
    <line x1="500" y1="591" x2="500" y2="597"/>
    <line x1="23" y1="42.5" x2="29" y2="42.5"/><line x1="23" y1="131.6" x2="29" y2="131.6"/>
    <line x1="23" y1="220.7" x2="29" y2="220.7"/><line x1="23" y1="309.8" x2="29" y2="309.8"/>
    <line x1="23" y1="398.8" x2="29" y2="398.8"/><line x1="23" y1="487.9" x2="29" y2="487.9"/>
    <line x1="23" y1="577" x2="29" y2="577"/>
  </g>
  <g class="lab" text-anchor="middle">
    <text x="46" y="619">-124</text><text x="121.7" y="619">-122</text><text x="197.3" y="619">-120</text>
    <text x="273" y="619">-118</text><text x="348.7" y="619">-116</text><text x="424.3" y="619">-114</text>
    <text x="500" y="619">-112</text>
    <text transform="translate(12,42.5) rotate(-90)">45</text>
    <text transform="translate(12,131.6) rotate(-90)">43</text>
    <text transform="translate(12,220.7) rotate(-90)">41</text>
    <text transform="translate(12,309.8) rotate(-90)">39</text>
    <text transform="translate(12,398.8) rotate(-90)">37</text>
    <text transform="translate(12,487.9) rotate(-90)">35</text>
    <text transform="translate(12,577) rotate(-90)">33</text>
    <text x="271.5" y="640">Bias Summary: [ min, 25th %, 50th %, 75th %, max ]</text>
    <text x="271.5" y="655" style="white-space:pre" xml:space="preserve">[ -77,   -5.5,   -2.3,   -0.76,   63 ]</text>
    <text x="550" y="53">ug/m3</text>
  </g>

  <rect x="546" y="56" width="7" height="511" fill="url(#bias)"/>
  <rect x="546" y="56" width="7" height="511" fill="none" stroke="#999" stroke-width="0.8"/>
  <g class="tk">
    <line x1="553" y1="58" x2="559" y2="58"/><line x1="553" y1="143" x2="559" y2="143"/>
    <line x1="553" y1="229" x2="559" y2="229"/><line x1="553" y1="315" x2="559" y2="315"/>
    <line x1="553" y1="400" x2="559" y2="400"/><line x1="553" y1="485.5" x2="559" y2="485.5"/>
    <line x1="553" y1="563" x2="559" y2="563"/>
  </g>
  <g class="lab">
    <text x="564" y="62.5">14000</text><text x="564" y="147.5">100</text><text x="564" y="233.5">50</text>
    <text x="564" y="319.5">0</text><text x="564" y="404.5">-50</text><text x="564" y="490">-100</text>
    <text x="564" y="567.5">-500</text>
  </g>
</g>
</svg>
</body>
</html>
